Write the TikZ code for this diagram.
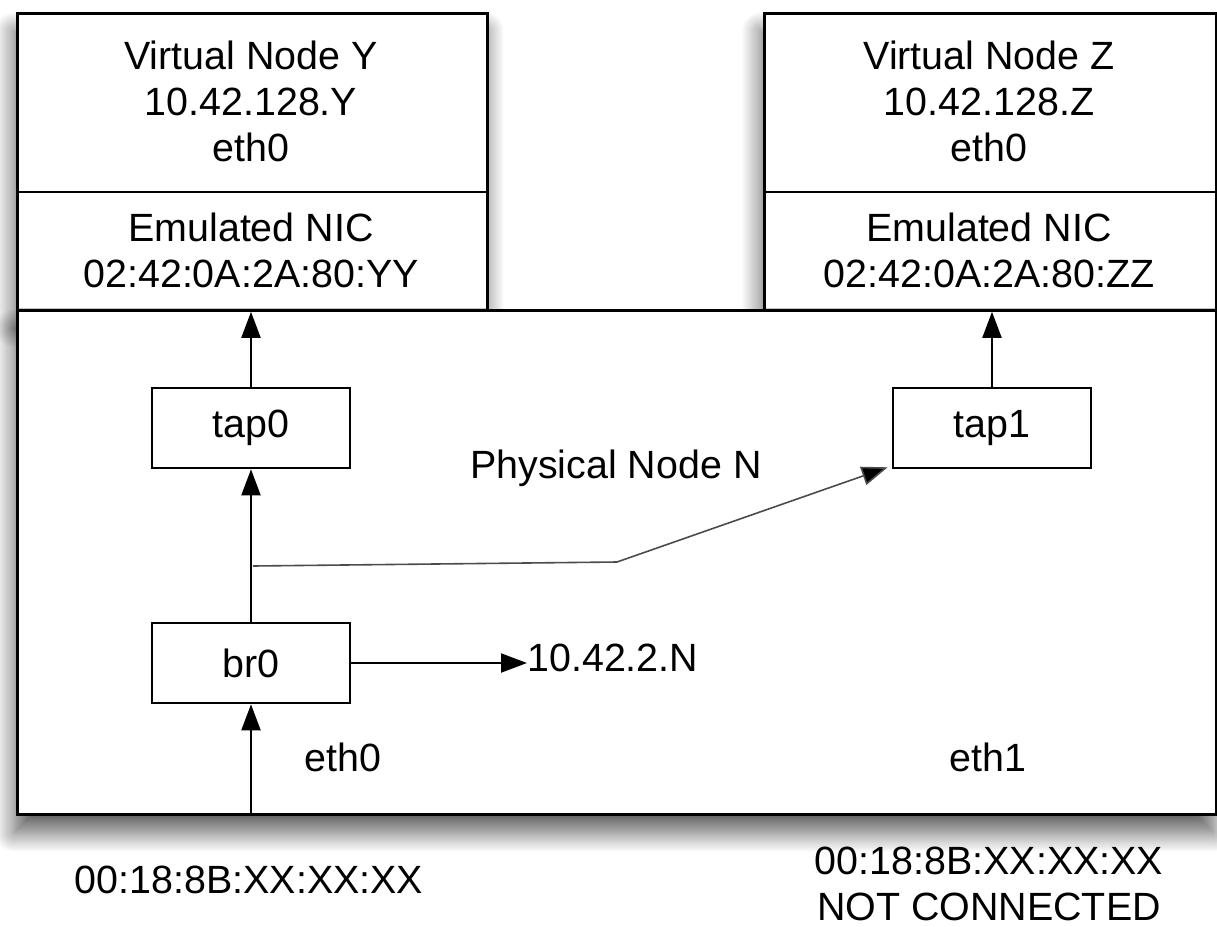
\documentclass[tikz,border=0pt]{standalone}
\usepackage{fontspec}
\setmainfont{Liberation Sans}
\usetikzlibrary{arrows.meta,shadows.blur}

\begin{document}
\begin{tikzpicture}[x=0.5pt,y=-0.5pt,
  frame/.style={draw, line width=1.4pt, fill=white, anchor=north west, inner sep=0pt,
    blur shadow={shadow xshift=-1.5pt, shadow yshift=-9pt, shadow blur radius=10pt,
      shadow blur steps=20, shadow opacity=65}},
  ifbox/.style={draw, line width=1.3pt, fill=white, minimum width=99pt, minimum height=40pt,
    inner sep=0pt, font=\fontsize{19.7}{23}\selectfont},
  lbl/.style={align=center, inner sep=0pt, font=\fontsize{19.7}{23}\selectfont},
  conn/.style={line width=1pt, -{Triangle[length=13pt,width=9.5pt]}},
  branch/.style={line width=0.8pt, draw=black!70, -{Triangle[length=13pt,width=9.5pt, fill=black]}}
]
\useasboundingbox (0,0) rectangle (1217,927);

% virtual machines on top of the physical host
\node[frame, minimum width=235pt, minimum height=148.5pt] (vy) at (16,12) {};
\node[frame, minimum width=226pt, minimum height=148.5pt] (vz) at (763,12) {};
\draw[line width=1.3pt] (vy.west |- 0,192) -- (vy.east |- 0,192);
\draw[line width=1.3pt] (vz.west |- 0,192) -- (vz.east |- 0,192);

% physical host
\node[frame, minimum width=599.5pt, minimum height=252pt] (phys) at (16,309) {};

% texts of the virtual machines
\node[lbl] (vyname) at (251,101) {Virtual Node Y\\10.42.128.Y\\eth0};
\node[lbl] (vynic) at (251,250) {Emulated NIC\\02:42:0A:2A:80:YY};
\node[lbl] (vzname) at (989,101) {Virtual Node Z\\10.42.128.Z\\eth0};
\node[lbl] (vznic) at (989,250) {Emulated NIC\\02:42:0A:2A:80:ZZ};

% interfaces inside the host
\node[ifbox] (tap0) at (251,428) {tap0};
\node[ifbox] (tap1) at (992,428) {tap1};
\node[ifbox] (br0) at (251,663) {br0};

\node[lbl] (physname) at (616,468) {Physical Node N};
\node[lbl, anchor=west] (ip) at (527,658) {10.42.2.N};
\node[lbl] (eth0) at (343,757) {eth0};
\node[lbl] (eth1) at (988,757) {eth1};

% MAC addresses of the host ports
\node[lbl] (mac0) at (249,880) {00:18:8B:XX:XX:XX};
\node[lbl] (mac1) at (989,884) {00:18:8B:XX:XX:XX\\NOT CONNECTED};

% connections
\coordinate (ethin) at (br0 |- phys.south);
\coordinate (split) at (253,566);
\coordinate (bend) at (617,562);

\draw[conn] (ethin) -- (br0.south);
\draw[conn] (br0.north) -- (tap0.south);
\draw[conn] (tap0.north) -- (tap0 |- vy.south);
\draw[conn] (tap1.north) -- (tap1 |- vz.south);
\draw[conn] (br0.east) -- (br0.east -| ip.west);
\draw[branch] (split) -- (bend) -- ([xshift=-2pt,yshift=1pt]tap1.south west);
\end{tikzpicture}
\end{document}
